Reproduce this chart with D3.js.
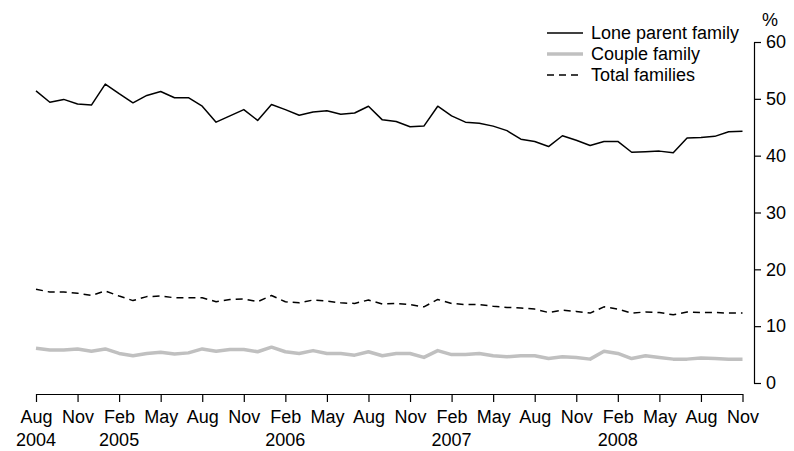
<!DOCTYPE html>
<html>
<head>
<meta charset="utf-8">
<script src="https://cdn.jsdelivr.net/npm/d3@7"></script>
<style>
  body { margin: 0; background: #fff; }
  svg { display: block; }
</style>
</head>
<body>
<svg id="chart"></svg>
<script>
// monthly, Aug 2004 .. Nov 2008
var months = ["Aug","Sep","Oct","Nov","Dec",
  "Jan","Feb","Mar","Apr","May","Jun","Jul","Aug","Sep","Oct","Nov","Dec",
  "Jan","Feb","Mar","Apr","May","Jun","Jul","Aug","Sep","Oct","Nov","Dec",
  "Jan","Feb","Mar","Apr","May","Jun","Jul","Aug","Sep","Oct","Nov","Dec",
  "Jan","Feb","Mar","Apr","May","Jun","Jul","Aug","Sep","Oct","Nov"];

var loneParent = [51.4,49.4,49.9,49.1,48.9,
  52.6,50.9,49.3,50.6,51.3,50.2,50.2,48.7,45.9,47.0,48.1,46.2,
  49.0,48.1,47.1,47.7,47.9,47.3,47.5,48.7,46.3,46.0,45.1,45.2,
  48.7,47.0,45.9,45.7,45.2,44.4,42.9,42.5,41.6,43.5,42.7,41.8,
  42.5,42.5,40.6,40.7,40.8,40.5,43.1,43.2,43.4,44.2,44.3];

var couple = [6.1,5.8,5.8,6.0,5.6,
  6.0,5.2,4.8,5.2,5.4,5.1,5.3,6.0,5.6,5.9,5.9,5.5,
  6.3,5.5,5.2,5.7,5.2,5.2,4.9,5.5,4.8,5.2,5.2,4.5,
  5.7,5.0,5.0,5.2,4.8,4.6,4.8,4.8,4.3,4.6,4.5,4.2,
  5.6,5.2,4.3,4.8,4.5,4.2,4.2,4.4,4.3,4.2,4.2];

var totalFamilies = [16.5,16.0,16.0,15.8,15.4,
  16.2,15.3,14.5,15.2,15.3,15.0,15.0,15.0,14.3,14.7,14.8,14.3,
  15.4,14.3,14.1,14.6,14.4,14.1,14.0,14.6,13.9,14.0,13.8,13.4,
  14.7,14.0,13.8,13.8,13.5,13.3,13.2,13.0,12.4,12.8,12.6,12.3,
  13.4,13.0,12.3,12.5,12.4,12.0,12.5,12.4,12.4,12.3,12.3];

var years = [{label: "2004", i: 0}, {label: "2005", i: 6}, {label: "2006", i: 18},
             {label: "2007", i: 30}, {label: "2008", i: 42}];

var yTicks = [0, 10, 20, 30, 40, 50, 60];

var width = 794, height = 451,
    font = "'Liberation Sans', Arial, sans-serif";

var svg = d3.select("#chart")
    .attr("width", width)
    .attr("height", height);

var x = d3.scaleLinear().domain([0, months.length - 1]).range([36, 742.5]),
    y = d3.scaleLinear().domain([0, 60]).range([383, 42]);

// x axis
var xAxis = svg.append("g")
    .attr("transform", "translate(0,394)")
    .call(d3.axisBottom(x)
      .tickValues(d3.range(0, months.length, 3))
      .tickSize(8)
      .tickSizeOuter(0)
      .tickPadding(8)
      .tickFormat(function(i) { return months[i]; }));

xAxis.selectAll("text")
    .style("font-family", font)
    .style("font-size", "18px")
    .attr("fill", "#000");

svg.selectAll(".year")
    .data(years)
  .enter().append("text")
    .attr("class", "year")
    .attr("x", function(d) { return x(d.i); })
    .attr("y", 446)
    .attr("text-anchor", "middle")
    .style("font-family", font)
    .style("font-size", "18px")
    .text(function(d) { return d.label; });

// y axis on the right
var yAxis = svg.append("g")
    .attr("transform", "translate(754,0)")
    .call(d3.axisRight(y)
      .tickValues(yTicks)
      .tickSize(7)
      .tickSizeOuter(0)
      .tickPadding(5));

yAxis.selectAll("text")
    .style("font-family", font)
    .style("font-size", "18px")
    .attr("fill", "#000");

svg.selectAll(".domain, .tick line").attr("stroke", "#000").attr("stroke-width", 1.2);

svg.append("text")
    .attr("x", 770)
    .attr("y", 26)
    .attr("text-anchor", "middle")
    .style("font-family", font)
    .style("font-size", "18px")
    .text("%");

// lines
var line = d3.line()
    .x(function(d, i) { return x(i); })
    .y(function(d) { return y(d); });

var series = [
  {name: "Couple family", values: couple, color: "#c0c0c0", width: 3.5, dash: null},
  {name: "Total families", values: totalFamilies, color: "#000", width: 1.5, dash: "7,5"},
  {name: "Lone parent family", values: loneParent, color: "#000", width: 1.5, dash: null}
];

svg.selectAll(".series")
    .data(series)
  .enter().append("path")
    .attr("class", "series")
    .attr("fill", "none")
    .attr("stroke", function(d) { return d.color; })
    .attr("stroke-width", function(d) { return d.width; })
    .attr("stroke-dasharray", function(d) { return d.dash; })
    .attr("stroke-linejoin", "round")
    .attr("d", function(d) { return line(d.values); });

// legend
var legendOrder = [series[2], series[0], series[1]];
var legend = svg.selectAll(".legend")
    .data(legendOrder)
  .enter().append("g")
    .attr("class", "legend")
    .attr("transform", function(d, i) { return "translate(547," + (33 + i * 21) + ")"; });

legend.append("line")
    .attr("x1", 0)
    .attr("x2", 36)
    .attr("stroke", function(d) { return d.color; })
    .attr("stroke-width", function(d) { return d.width; })
    .attr("stroke-dasharray", function(d) { return d.dash; });

legend.append("text")
    .attr("x", 44)
    .attr("dy", "0.35em")
    .style("font-family", font)
    .style("font-size", "18px")
    .text(function(d) { return d.name; });
</script>
</body>
</html>
